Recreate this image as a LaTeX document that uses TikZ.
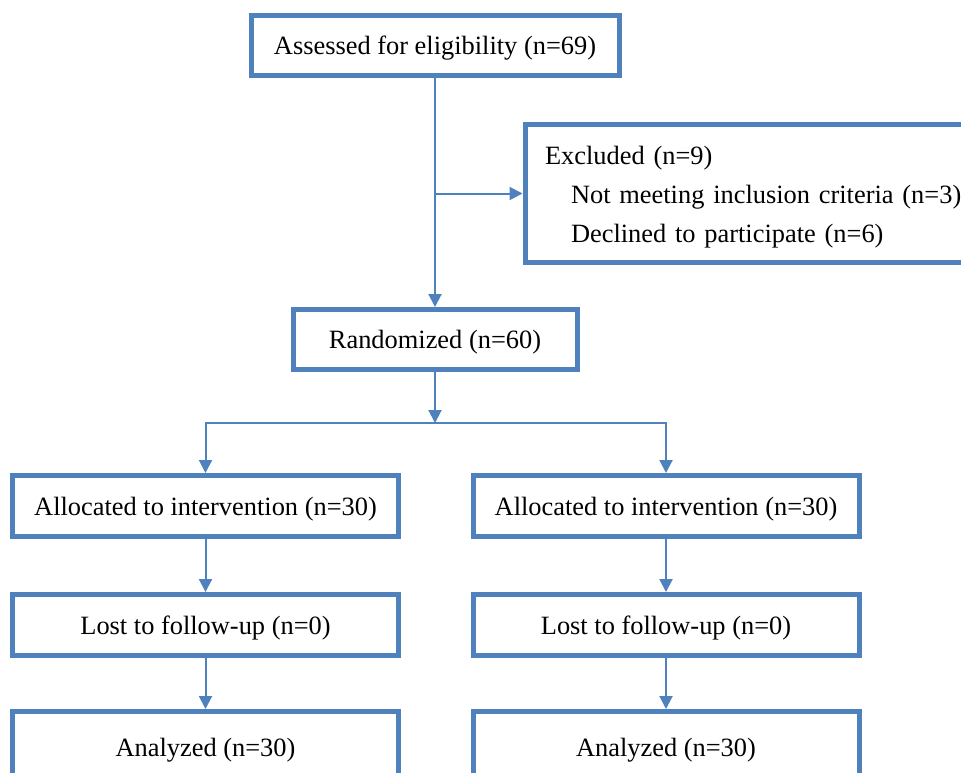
\documentclass[tikz,border=0pt]{standalone}
\usepackage{fontspec}
\setmainfont{Liberation Serif}
\usetikzlibrary{arrows.meta,positioning}
\definecolor{boxblue}{HTML}{4F81BD}
\tikzset{>={Triangle[length=6.5pt,width=6.5pt]},
  box/.style={draw=boxblue,line width=2.5pt,fill=white,align=center,inner sep=0pt,
    minimum height=30pt,text height=12pt,text depth=3pt,font=\fontsize{13.2}{16}\selectfont},
  armbox/.style={box,minimum width=193pt,minimum height=30.5pt},
  listbox/.style={draw=boxblue,line width=2.5pt,fill=white,align=left,inner xsep=10pt,
    inner ysep=0pt,font=\fontsize{13.2}{19.5}\selectfont},
  flow/.style={->,line width=1pt,boxblue}}

\begin{document}
\begin{tikzpicture}[x=0.5pt,y=-0.5pt]
  \clip (0,0) rectangle (961,772);
  \node[box,minimum width=184pt] (assess) at (435,45.5) {Assessed for eligibility (n=69)};
  \node[listbox,anchor=west,text width=240pt,minimum height=69pt] (excl) at (522.5,193.5)
    {\rule{0pt}{13pt}Excluded (n=9)\\\hspace*{13pt}Not meeting inclusion criteria (n=3)\\\hspace*{13pt}Declined to participate (n=6)};
  \node[box,minimum width=142pt] (rand) at (435,339.5) {Randomized (n=60)};
  \coordinate (split) at (435,423);
  \node[armbox] (allocL) at (205.5,506) {Allocated to intervention (n=30)};
  \node[armbox] (allocR) at (666,506) {Allocated to intervention (n=30)};
  \node[armbox,below=26.5pt of allocL] (lostL) {Lost to follow-up (n=0)};
  \node[armbox,below=26.5pt of allocR] (lostR) {Lost to follow-up (n=0)};
  \node[armbox,minimum height=36pt,below=25.5pt of lostL] (anaL) {Analyzed (n=30)};
  \node[armbox,minimum height=36pt,below=25.5pt of lostR] (anaR) {Analyzed (n=30)};
  % connectors
  \draw[flow] (assess) -- (rand);
  \draw[flow] (assess.south |- excl.west) -- (excl);
  \draw[flow] (rand) -- (split);
  \draw[flow] (split) -| (allocL);
  \draw[flow] (split) -| (allocR);
  \draw[flow] (allocL) -- (lostL);\draw[flow] (lostL) -- (anaL);
  \draw[flow] (allocR) -- (lostR);\draw[flow] (lostR) -- (anaR);
\end{tikzpicture}
\end{document}
